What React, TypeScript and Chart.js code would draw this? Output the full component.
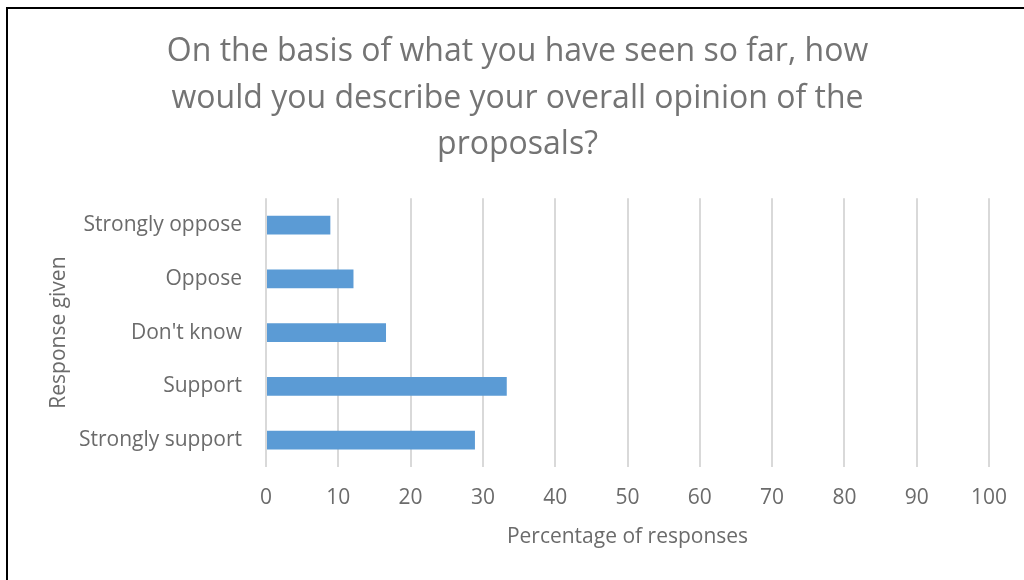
import React, { useEffect, useRef } from "react";
import { Chart, registerables } from "chart.js";

Chart.register(...registerables);

const categories = ["Strongly oppose", "Oppose", "Don't know", "Support", "Strongly support"];
const percentages = [8.9, 12.1, 16.6, 33.3, 28.9];
const titleLines = [
  "On the basis of what you have seen so far, how",
  "would you describe your overall opinion of the",
  "proposals?",
];
const xAxisTitle = "Percentage of responses";
const yAxisTitle = "Response given";

const FONT = "'Open Sans', sans-serif";
const TEXT = "#6b6b6b";
const TITLE_TEXT = "#747474";

export default function App() {
  const ref = useRef<HTMLCanvasElement | null>(null);
  useEffect(() => {
    if (!ref.current) return;
    const chart = new Chart(ref.current, {
      type: "bar",
      data: {
        labels: categories,
        datasets: [
          {
            data: percentages,
            backgroundColor: "#5B9BD5",
            borderWidth: 0,
            categoryPercentage: 1,
            barPercentage: 0.35,
          },
        ],
      },
      options: {
        indexAxis: "y",
        animation: false,
        responsive: false,
        maintainAspectRatio: false,
        layout: { padding: { left: 38, right: 49, top: 20, bottom: 10 } },
        plugins: {
          legend: { display: false },
          tooltip: { enabled: false },
          title: {
            display: true,
            text: titleLines,
            color: TITLE_TEXT,
            font: { family: FONT, size: 32, weight: "normal", lineHeight: 1.45 },
            padding: { top: 0, bottom: 30 },
          },
        },
        scales: {
          x: {
            min: 0,
            max: 100,
            afterFit: (scale: any) => {
              scale.height = 103;
            },
            ticks: {
              stepSize: 10,
              color: TEXT,
              font: { family: FONT, size: 21 },
              padding: 18,
            },
            grid: { color: "#d9d9d9", lineWidth: 2, drawTicks: false },
            border: { display: false },
            title: {
              display: true,
              text: xAxisTitle,
              color: TEXT,
              font: { family: FONT, size: 21 },
              padding: { top: 0, bottom: 20 },
            },
          },
          y: {
            afterFit: (scale: any) => {
              scale.width = 220;
            },
            ticks: {
              color: TEXT,
              font: { family: FONT, size: 21 },
              padding: 24,
            },
            grid: { display: false, drawTicks: false },
            border: { display: false },
            title: {
              display: true,
              text: yAxisTitle,
              color: TEXT,
              font: { family: FONT, size: 21 },
              padding: { top: 0, bottom: 0 },
            },
          },
        },
      },
    });
    return () => chart.destroy();
  }, []);
  return (
    <div
      style={{
        position: "fixed",
        left: 6,
        top: 7,
        right: 0,
        bottom: 0,
        borderLeft: "2px solid #000",
        borderTop: "2px solid #000",
        overflow: "hidden",
        background: "#fff",
      }}
    >
      <canvas ref={ref} width={1030} height={571} style={{ display: "block" }} />
    </div>
  );
}
